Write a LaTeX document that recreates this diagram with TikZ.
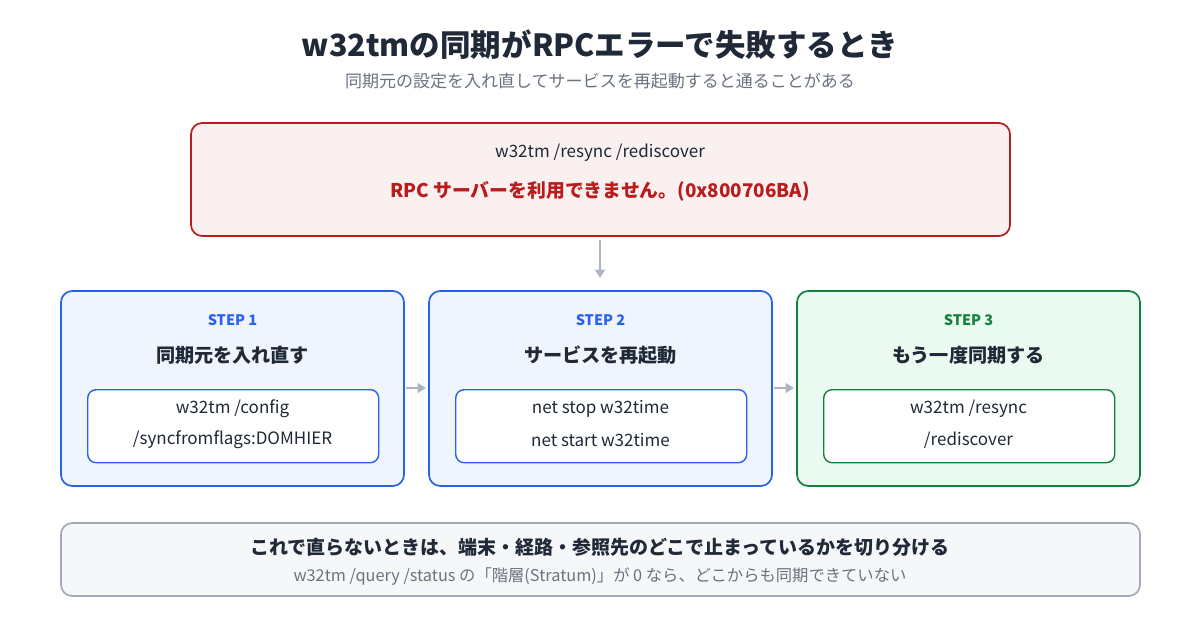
\documentclass[tikz,border=0pt]{standalone}
\usepackage{fontspec}
\setmainfont{Noto Sans CJK JP}
\usetikzlibrary{positioning,arrows.meta}
\definecolor{ink}{HTML}{1F2937}
\definecolor{mute}{HTML}{6B7280}
\definecolor{errred}{HTML}{B91C1C}
\definecolor{errfill}{HTML}{FBF0F0}
\definecolor{stepblue}{HTML}{2563EB}
\definecolor{bluefill}{HTML}{EFF4FD}
\definecolor{stepgreen}{HTML}{15803D}
\definecolor{greenfill}{HTML}{EAFAF0}
\definecolor{notegray}{HTML}{A3AAB5}
\definecolor{notefill}{HTML}{F6F7F9}
\definecolor{arrowgray}{HTML}{AEB6C2}
\tikzset{
  cmdbox/.style={draw=#1, line width=1pt, fill=white, rounded corners=6pt, minimum width=291*0.025cm, minimum height=73*0.025cm, anchor=north west},
  flow/.style={-{Triangle[length=6pt,width=7pt]}, arrowgray, line width=2pt},
  txt/.style={text=ink, font=\fontsize{12.1}{14}\selectfont},
  steplbl/.style={font=\bfseries\fontsize{10.3}{12}\selectfont, text=#1},
  steptitle/.style={font=\bfseries\fontsize{13.6}{16}\selectfont, text=ink}
}
\begin{document}
\begin{tikzpicture}[x=0.025cm, y=-0.025cm]
  \useasboundingbox[fill=white] (0,0) rectangle (1200,630);

  % heading
  \node[font=\bfseries\fontsize{21.7}{25}\selectfont, text=ink] (title) at (600,45) {w32tmの同期がRPCエラーで失敗するとき};
  \node[font=\fontsize{12.1}{14}\selectfont, text=mute] (subtitle) at (600,81) {同期元の設定を入れ直してサービスを再起動すると通ることがある};

  % error panel
  \draw[errred, fill=errfill, line width=1.2pt, rounded corners=8pt] (191,123) rectangle (1010,236);
  \node[txt] (errcmd) at (600,153) {w32tm /resync /rediscover};
  \node[font=\bfseries\fontsize{13.4}{16}\selectfont, text=errred] (errmsg) at (600,191) {RPC サーバーを利用できません。(0x800706BA)};
  \coordinate (errbot) at (600,240);
  \coordinate (steptop) at (600,278);
  \draw[flow] (errbot) -- (steptop);

  % step 1
  \draw[stepblue, fill=bluefill, line width=1.2pt, rounded corners=8pt] (61,291) rectangle (404,486);
  \node[steplbl=stepblue] (lbla) at (232.5,320) {STEP 1};
  \node[steptitle] (titlea) at (232.5,355) {同期元を入れ直す};
  \node[cmdbox=stepblue] (cmda) at (87,389) {};
  \node[txt] at (232.5,409) {w32tm /config};
  \node[txt] at (232.5,440) {/syncfromflags:DOMHIER};

  % step 2
  \draw[stepblue, fill=bluefill, line width=1.2pt, rounded corners=8pt] (429,291) rectangle (772,486);
  \node[steplbl=stepblue] (lblb) at (600.5,320) {STEP 2};
  \node[steptitle] (titleb) at (600.5,355) {サービスを再起動};
  \node[cmdbox=stepblue] (cmdb) at (455,389) {};
  \node[txt] at (600.5,409) {net stop w32time};
  \node[txt] at (600.5,440) {net start w32time};

  % step 3
  \draw[stepgreen, fill=greenfill, line width=1.2pt, rounded corners=8pt] (797,291) rectangle (1140,486);
  \node[steplbl=stepgreen] (lblc) at (968.5,320) {STEP 3};
  \node[steptitle] (titlec) at (968.5,355) {もう一度同期する};
  \node[cmdbox=stepgreen] (cmdc) at (823,389) {};
  \node[txt] at (968.5,409) {w32tm /resync};
  \node[txt] at (968.5,440) {/rediscover};

  % arrows between steps
  \coordinate (ra) at (406,388); \coordinate (lb) at (426,388);
  \coordinate (rb) at (774,388); \coordinate (lc) at (794,388);
  \draw[flow] (ra) -- (lb);
  \draw[flow] (rb) -- (lc);

  % note
  \draw[notegray, fill=notefill, line width=1.2pt, rounded corners=8pt] (61,523) rectangle (1140,596);
  \node[font=\bfseries\fontsize{13.5}{16}\selectfont, text=ink] (note) at (600,547) {これで直らないときは、端末・経路・参照先のどこで止まっているかを切り分ける};
  \node[font=\fontsize{11.6}{14}\selectfont, text=mute] (notesub) at (600,576) {w32tm /query /status の「階層(Stratum)」が 0 なら、どこからも同期できていない};
\end{tikzpicture}
\end{document}
